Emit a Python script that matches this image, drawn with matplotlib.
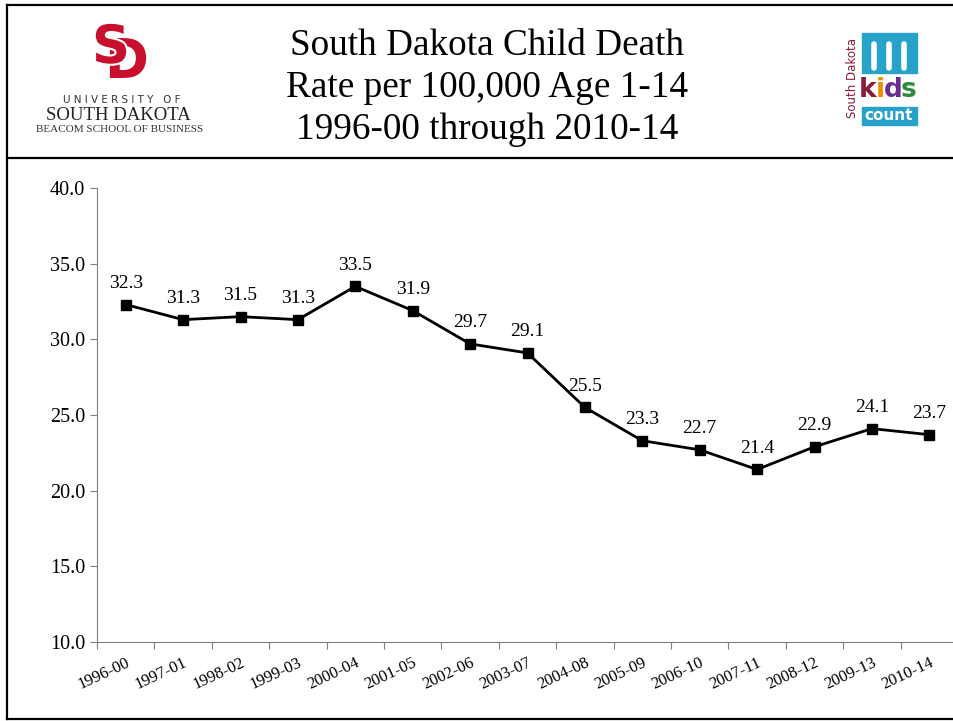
import matplotlib
matplotlib.use('Agg')
import matplotlib.pyplot as plt
import matplotlib.patheffects as pe
from matplotlib.lines import Line2D
from matplotlib.patches import Rectangle

## data
periods = ['1996-00', '1997-01', '1998-02', '1999-03', '2000-04', '2001-05',
           '2002-06', '2003-07', '2004-08', '2005-09', '2006-10', '2007-11',
           '2008-12', '2009-13', '2010-14']
rates = [32.3, 31.3, 31.5, 31.3, 33.5, 31.9, 29.7, 29.1, 25.5, 23.3,
         22.7, 21.4, 22.9, 24.1, 23.7]
yticks = [10.0, 15.0, 20.0, 25.0, 30.0, 35.0, 40.0]

plt.rcParams['font.family'] = ['Liberation Serif', 'DejaVu Serif']

W, H = 954, 721
fig = plt.figure(figsize=(W / 100, H / 100), dpi=100)

def fx(px):
    return px / W

def fy(py):
    return 1 - py / H

# frame and header separator
for xs, ys in [([7, 7], [5, 719]), ([7, 954], [5, 5]), ([7, 954], [719, 719]),
               ([7, 954], [158, 158])]:
    fig.add_artist(Line2D([fx(x) for x in xs], [fy(y) for y in ys],
                          color='black', lw=1.6))

# title
fig.text(fx(487), fy(88), 'South Dakota Child Death\nRate per 100,000 Age 1-14\n1996-00 through 2010-14',
         ha='center', va='center', fontsize=26.8, linespacing=1.28)

# USD logo (approximation)
red = '#c8102e'
fig.text(fx(126), fy(62), 'D', ha='center', va='center', fontsize=38,
         fontweight='bold', color=red, family='DejaVu Sans')
fig.text(fx(111), fy(48), 'S', ha='center', va='center', fontsize=38,
         fontweight='bold', color=red, family='DejaVu Sans',
         path_effects=[pe.withStroke(linewidth=3, foreground='white')])
fig.text(fx(122), fy(100), 'U N I V E R S I T Y   O F', ha='center', va='center',
         fontsize=7.5, color='#333333', family='DejaVu Sans')
fig.text(fx(118), fy(116), 'SOUTH DAKOTA', ha='center', va='center',
         fontsize=13.5, color='#222222')
fig.text(fx(120), fy(130), 'BEACOM SCHOOL OF BUSINESS', ha='center', va='center',
         fontsize=8, color='#333333')

# kids count logo (approximation)
blue = '#27a3c9'
fig.add_artist(Rectangle((fx(862), fy(73)), fx(55), 40 / H, color=blue))
fig.add_artist(Rectangle((fx(862), fy(125)), fx(55), 18 / H, color=blue))
for ch, c, xc in zip('kids', ['#8b1a3a', '#f28c00', '#6a2c8f', '#2e8b3a'],
                     [868, 880, 893, 909]):
    fig.text(fx(xc), fy(90), ch, ha='center', va='center', fontsize=19,
             fontweight='bold', color=c, family='DejaVu Sans Condensed')
fig.text(fx(889), fy(116), 'count', ha='center', va='center', fontsize=11,
         fontweight='bold', color='white', family='DejaVu Sans')
fig.text(fx(853), fy(78), 'South Dakota', ha='center', va='center', fontsize=8.5,
         rotation=90, color='#8b1a3a', family='DejaVu Sans')
for xh in [874, 889, 904]:
    fig.add_artist(Line2D([fx(xh), fx(xh)], [fy(68), fy(44)], color='white',
                          lw=4, solid_capstyle='round'))

# main chart
ax = fig.add_axes([fx(97), fy(642), fx(958 - 97), (642 - 188) / H])
x = list(range(len(periods)))
ax.plot(x, rates, color='black', lw=2, marker='s', markersize=7.5,
        markerfacecolor='black', clip_on=False)
for xi, v in zip(x, rates):
    ax.annotate(f'{v:.1f}', (xi, v), xytext=(0, 9), textcoords='offset points',
                ha='center', va='bottom', fontsize=14)

ax.set_xlim(-0.5, len(periods) - 0.5)
ax.set_ylim(10, 40)
ax.set_yticks(yticks)
ax.set_yticklabels([f'{t:.1f}' for t in yticks], fontsize=14.5)
ax.set_xticks([i - 0.5 for i in range(len(periods) + 1)])
ax.set_xticklabels([])
ax.set_xticks(x, minor=True)
ax.set_xticklabels(periods, minor=True, rotation=25, ha='right',
                   rotation_mode='anchor', fontsize=12)
ax.tick_params(axis='x', which='minor', length=0, pad=9)
ax.tick_params(axis='both', which='major', length=5, color='#808080')
for s in ['top', 'right']:
    ax.spines[s].set_visible(False)
for s in ['left', 'bottom']:
    ax.spines[s].set_color('#808080')

fig.savefig('out.png', dpi=100)
